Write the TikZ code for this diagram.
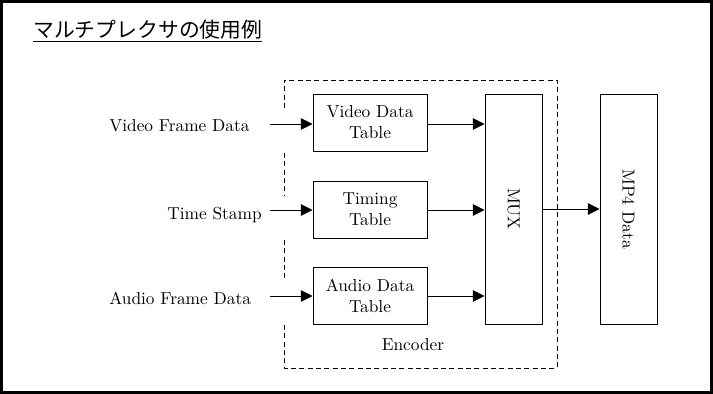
\documentclass[tikz,border=0pt]{standalone}
\usepackage{fontspec}
\usepackage{tikz}
\usetikzlibrary{arrows.meta}
\newfontfamily\jpfont{Noto Sans CJK JP}
\tikzset{
    flow/text/.style={
        font=\fontsize{10.4}{12.6}\selectfont, inner sep=0pt
    },
    flow/table/.style={
        rectangle, draw=black, line width=0.6pt, fill=white,
        align=center, font=\fontsize{10.4}{12.6}\selectfont,
        minimum width=68.4pt, minimum height=34.2pt, inner sep=2pt
    },
    flow/tall/.style={
        flow/table, minimum width=34.2pt, minimum height=138pt
    },
    flow/arrow/.style={
        draw=black, line width=0.6pt,
        -{Triangle[length=7pt,width=7pt]}
    },
    flow/encoder/.style={
        draw=black, line width=0.6pt, dash pattern=on 3pt off 2pt
    },
    flow/title/.style={
        font=\jpfont\fontsize{12.5}{15}\selectfont, inner sep=0pt
    }
}

\begin{document}
\begin{tikzpicture}[x=0.6pt, y=-0.6pt]
    \useasboundingbox (0,0) rectangle (713,394);
    \draw[line width=1.8pt] (1.5,1.5) rectangle (711.5,392.5);

    \node[flow/title, anchor=base west] (titel) at (33,37)
        {\underline{マルチプレクサの使用例}};

    % encoder block
    \draw[flow/encoder] (284,108) -- (284,80) -- (557,80)
        -- (557,368) -- (284,368) -- (284,325);
    \draw[flow/encoder] (284,153) -- (284,195);
    \draw[flow/encoder] (284,240) -- (284,278);
    \node[flow/text] (encoder) at (413,345) {Encoder};

    \node[flow/table] (video) at (370,122.5) {Video Data\\Table};
    \node[flow/table] (timing) at (370,209.5) {Timing\\Table};
    \node[flow/table] (audio) at (370,295.5) {Audio Data\\Table};
    \node[flow/tall] (mux) at (513.5,209)
        {\rotatebox{-90}{MUX}};
    \node[flow/tall] (mp4) at (628.5,209)
        {\rotatebox{-90}{MP4 Data}};

    \node[flow/text, anchor=west] (videoin) at (109,126) {Video Frame Data};
    \node[flow/text, anchor=east] (timein) at (262,215) {Time Stamp};
    \node[flow/text, anchor=west] (audioin) at (109,298) {Audio Frame Data};

    \coordinate (videostart) at (270,124);
    \coordinate (timestart) at (270,210);
    \coordinate (audiostart) at (270,296);

    \draw[flow/arrow] (videostart) -- (videostart -| video.west);
    \draw[flow/arrow] (timestart) -- (timestart -| timing.west);
    \draw[flow/arrow] (audiostart) -- (audiostart -| audio.west);

    \draw[flow/arrow] (video.east |- videostart) -- (videostart -| mux.west);
    \draw[flow/arrow] (timing.east |- timestart) -- (timestart -| mux.west);
    \draw[flow/arrow] (audio.east |- audiostart) -- (audiostart -| mux.west);
    \draw[flow/arrow] (mux.east) -- (mp4.west);
\end{tikzpicture}
\end{document}
